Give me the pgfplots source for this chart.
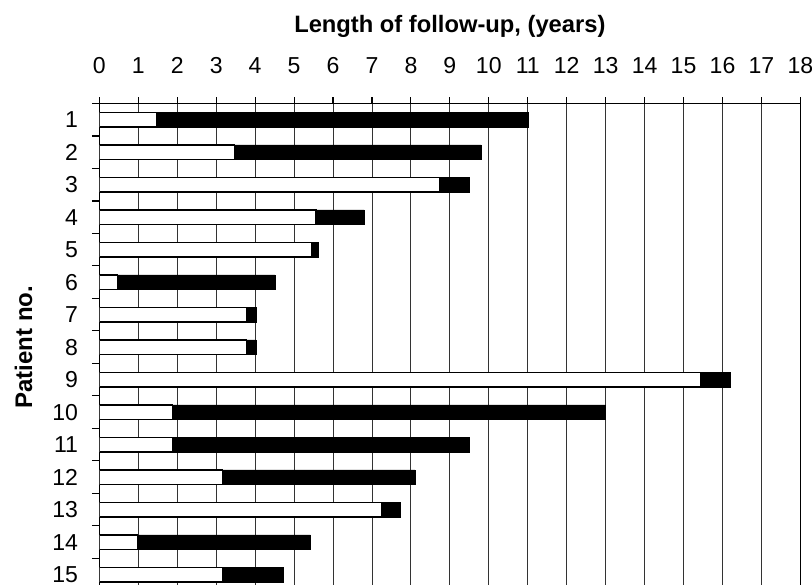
\documentclass[border=0pt]{standalone}
\usepackage{pgfplots}
\pgfplotsset{compat=1.18}
\usepackage{fontspec}
\setmainfont{Liberation Sans}
\begin{document}
\begin{tikzpicture}
\begin{axis}[
  at={(0,0)}, anchor=north west,
  scale only axis, width=525.8pt, height=365.6pt,
  xmin=0, xmax=18, ymin=0.5, ymax=15.5, y dir=reverse,
  axis line style={line width=1.2pt},
  xtick={0,1,...,18},
  xtick pos=right, xticklabel pos=right,
  ytick={1,...,15}, ytick pos=left,
  minor ytick={0.5,1.5,...,15.5},
  tick align=outside,
  major tick length=4.5pt, minor tick length=5.5pt,
  major y tick style={draw=none},
  minor y tick style={draw=black, line width=0.8pt},
  major x tick style={draw=black, line width=0.8pt},
  xmajorgrids,
  major x grid style={line width=0.7pt, draw=black!80},
  /pgf/number format/assume math mode=true,
  tick label style={font=\fontsize{17.3}{20}\selectfont},
  xticklabel style={anchor=base, yshift=17.8pt},
  yticklabel style={anchor=east, xshift=-8pt, inner ysep=0pt},
  xlabel={Length of follow-up, (years)},
  xlabel style={font=\bfseries\fontsize{17.8}{20}\selectfont, at={(axis description cs:0.5,1.1466)}, anchor=base},
  ylabel={Patient no.},
  ylabel style={font=\bfseries\fontsize{18}{20}\selectfont, at={(axis description cs:-0.0957,0.5)}, anchor=base},
]
\addplot[xbar, bar width=0.45, bar shift=0pt, fill=black, draw=black] coordinates {
(11.0,1) (9.80,2) (9.50,3) (6.80,4) (5.61,5) (4.51,6) (4.02,7) (4.02,8)
(16.19,9) (12.99,10) (9.50,11) (8.10,12) (7.72,13) (5.42,14) (4.72,15)};
\addplot[xbar, bar width=0.45, bar shift=0pt, fill=white, draw=black, line width=1pt] coordinates {
(1.47,1) (3.47,2) (8.75,3) (5.56,4) (5.45,5) (0.47,6) (3.77,7) (3.77,8)
(15.44,9) (1.87,10) (1.87,11) (3.17,12) (7.26,13) (0.98,14) (3.17,15)};
\end{axis}
\pgfresetboundingbox
\useasboundingbox (-74.5pt,77.6pt) rectangle (534.5pt,-361.1pt);
\end{tikzpicture}
\end{document}
